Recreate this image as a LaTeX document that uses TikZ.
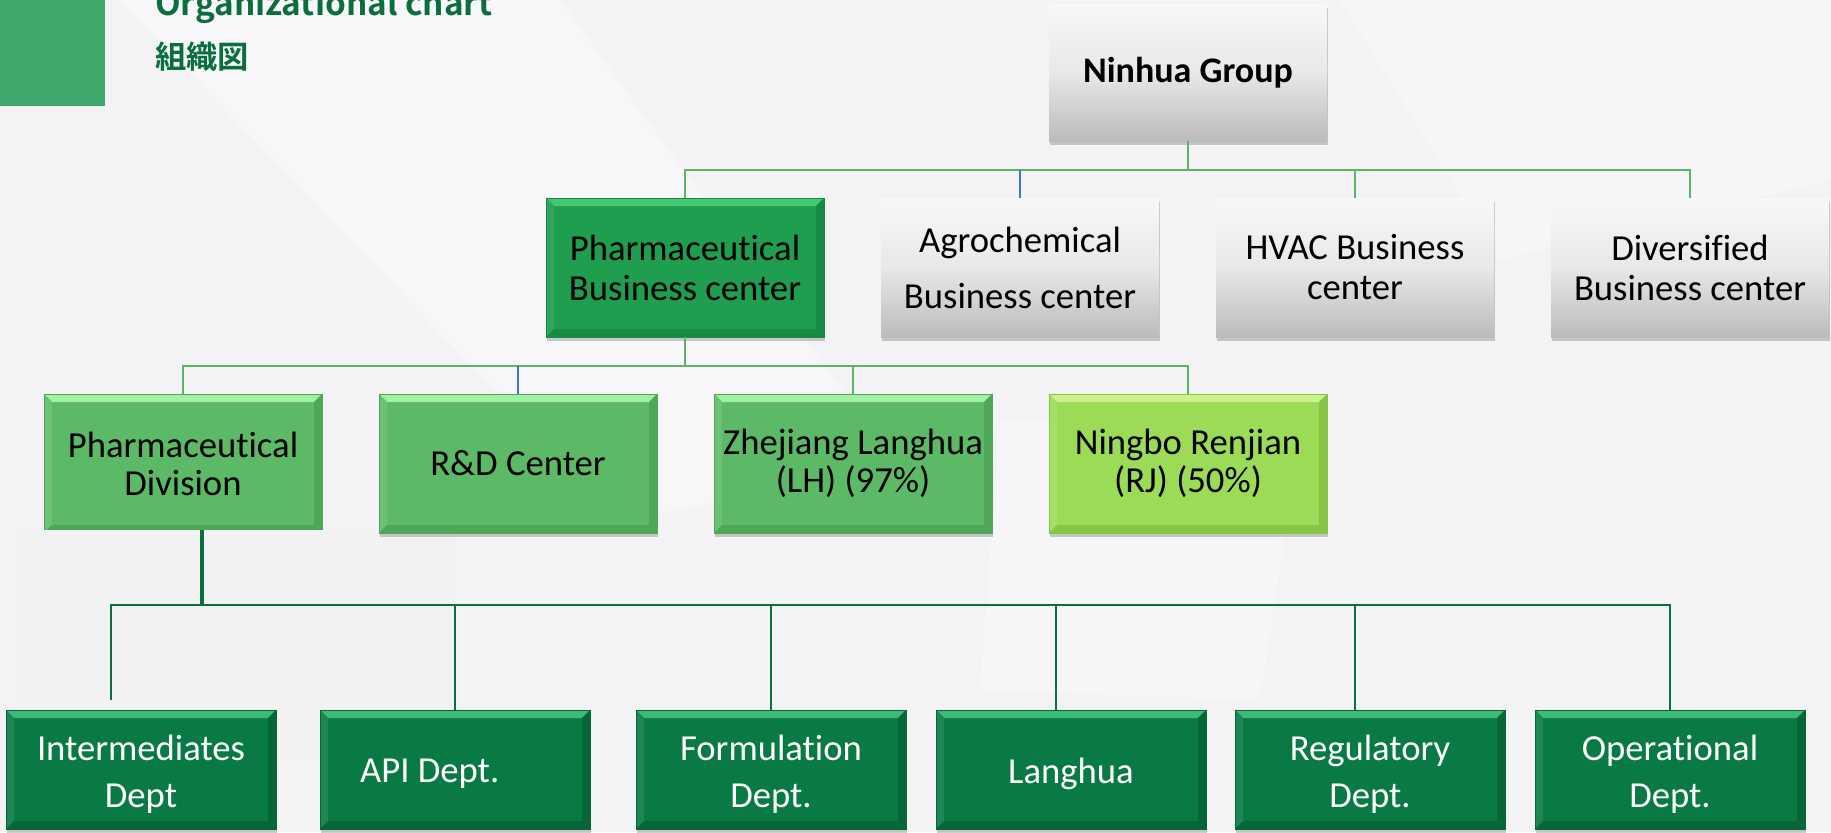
\documentclass[tikz,border=0pt]{standalone}
\usepackage{fontspec}
\setmainfont{Carlito}[Ligatures={NoCommon}]
\newfontfamily\cjk{Noto Sans CJK JP}[BoldFont={Noto Sans CJK JP Bold}]
\usetikzlibrary{shadows}
\definecolor{bg}{HTML}{F3F3F5}
\definecolor{titlegreen}{HTML}{0B6E3C}
\definecolor{sqgreen}{HTML}{41A66B}
\definecolor{pbc}{HTML}{1E9E4E}
\definecolor{pbclight}{HTML}{45C873}
\definecolor{pbcdark}{HTML}{178A43}
\definecolor{mid}{HTML}{5CBA67}
\definecolor{midlight}{HTML}{A2F0A2}
\definecolor{middark}{HTML}{4EA659}
\definecolor{lime}{HTML}{9CDB56}
\definecolor{limelight}{HTML}{CBF28E}
\definecolor{limedark}{HTML}{87C547}
\definecolor{deep}{HTML}{0A7A45}
\definecolor{deeplight}{HTML}{3DBA78}
\definecolor{deepdark}{HTML}{076637}
\definecolor{grtop}{HTML}{F8F8F8}
\definecolor{grmid}{HTML}{E8E8E8}
\definecolor{grbot}{HTML}{BBBBBB}
\definecolor{lineg}{HTML}{5BB565}
\definecolor{lineb}{HTML}{4472C4}
\definecolor{linedeep}{HTML}{0B6E3C}
\definecolor{patch}{HTML}{F2F2F2}
\newcommand\bvl{6pt}
\tikzset{
  bevel/.style n args={4}{path picture={
    \fill[#1] (path picture bounding box.north west) -- (path picture bounding box.north east)
      -- ([shift={(-\bvl,-\bvl)}]path picture bounding box.north east)
      -- ([shift={(\bvl,-\bvl)}]path picture bounding box.north west) -- cycle;
    \fill[#2] (path picture bounding box.north west) -- ([shift={(\bvl,-\bvl)}]path picture bounding box.north west)
      -- ([shift={(\bvl,\bvl)}]path picture bounding box.south west) -- (path picture bounding box.south west) -- cycle;
    \fill[#3] (path picture bounding box.north east) -- ([shift={(-\bvl,-\bvl)}]path picture bounding box.north east)
      -- ([shift={(-\bvl,\bvl)}]path picture bounding box.south east) -- (path picture bounding box.south east) -- cycle;
    \fill[#4] (path picture bounding box.south west) -- ([shift={(\bvl,\bvl)}]path picture bounding box.south west)
      -- ([shift={(-\bvl,\bvl)}]path picture bounding box.south east) -- (path picture bounding box.south east) -- cycle;
  }},
  shad/.style={drop shadow={shadow xshift=1pt, shadow yshift=-3pt, opacity=.28, fill=black!70}},
  box/.style={minimum width=208.5pt, minimum height=104.25pt, inner sep=0pt, align=center,
    font=\fontsize{27.5}{30}\selectfont, shad},
  graybox/.style={box, top color=grtop, bottom color=grbot, middle color=grmid},
  pbcbox/.style={box, fill=pbc, draw=pbcdark, line width=.6pt, bevel={pbclight}{pbc!92!white}{pbcdark}{pbcdark}},
  midbox/.style={box, fill=mid, draw=middark, line width=.6pt, font=\fontsize{27.5}{28.5}\selectfont,
    bevel={midlight}{mid!90!white}{middark}{middark}},
  limebox/.style={midbox, fill=lime, draw=limedark, bevel={limelight}{lime!90!white}{limedark}{limedark}},
  deepbox/.style={box, minimum width=202.5pt, minimum height=89.25pt, fill=deep, draw=deepdark, line width=.6pt,
    bevel={deeplight}{deep!92!white}{deepdark}{deepdark}},
  deeptext/.style={inner sep=0pt, align=center, text=white, font=\fontsize{27.5}{35}\selectfont},
  lg/.style={draw=lineg, line width=1.5pt},
  lg2/.style={draw=lineg, line width=1.1pt},
  lb/.style={draw=lineb, line width=1.1pt},
  dl/.style={draw=linedeep, line width=1.3pt},
  thickl/.style={draw=linedeep, line width=3pt},
}
\begin{document}
\begin{tikzpicture}[x=0.75pt,y=-0.75pt]
\useasboundingbox (0,0) rectangle (1831,832);
\fill[bg] (0,0) rectangle (1831,832);
% faint background facets
\fill[white, opacity=.4] (120,0) -- (560,0) -- (900,470) -- (620,520) -- cycle;
\fill[white, opacity=.3] (1340,0) -- (1831,0) -- (1831,180) -- (1500,260) -- cycle;
\fill[white, opacity=.3] (1000,420) -- (1300,430) -- (1260,700) -- (980,690) -- cycle;

% title block
\fill[sqgreen] (0,0) rectangle (105,106);
\node[anchor=base west, inner sep=0pt, text=titlegreen, font=\cjk\bfseries\fontsize{25}{25}\selectfont] (title) at (155,15) {Organizational chart};
\node[anchor=base west, inner sep=0pt, text=titlegreen, font=\cjk\bfseries\fontsize{23.5}{23.5}\selectfont] (jp) at (155,68) {組織図};

% level 0
\node[graybox, minimum height=102.75pt, font=\bfseries\fontsize{27}{30}\selectfont] (ng) at (1188,72.5) {Ninhua Group};

% level 1
\node[pbcbox] (pbc) at (685,267.5) {Pharmaceutical\\Business center};
\node[graybox, font=\fontsize{27.5}{42}\selectfont] (agro) at (1020,267.5) {Agrochemical\\Business center};
\node[graybox] (hvac) at (1355,267.5) {HVAC Business\\center};
\node[graybox] (div) at (1690,267.5) {Diversified\\Business center};

% level 2 (division box, then the light patch that hides its lower edge)
\node[midbox] (pd) at (183,463.5) {Pharmaceutical\\Division};
\fill[patch] (20,530) rectangle (456,760);
\node[midbox] (rd) at (518,463.5) {R\&D Center};
\node[midbox] (lh) at (853,463.5) {Zhejiang Langhua\\(LH) (97\%)};
\node[limebox] (rj) at (1188,463.5) {Ningbo Renjian\\(RJ) (50\%)};

% level 3
\node[deepbox] (imd) at (141,769.5) {};
\node[deepbox] (api) at (455,769.5) {};
\node[deepbox] (frm) at (771,769.5) {};
\node[deepbox] (lang) at (1071,769.5) {};
\node[deepbox] (reg) at (1370,769.5) {};
\node[deepbox] (ope) at (1670,769.5) {};
\node[deeptext] (imdt) at ([yshift=-3.5pt]imd.center) {Intermediates\\Dept};
\node[deeptext] (apit) at ([xshift=-19pt,yshift=-3.5pt]api.center) {API Dept.};
\node[deeptext] (frmt) at ([yshift=-3.5pt]frm.center) {Formulation\\Dept.};
\node[deeptext] (langt) at ([yshift=-3.5pt]lang.center) {Langhua};
\node[deeptext] (regt) at ([yshift=-3.5pt]reg.center) {Regulatory\\Dept.};
\node[deeptext] (opet) at ([yshift=-3.5pt]ope.center) {Operational\\Dept.};

% connectors level 0 -> 1
\coordinate (j0) at (1188,170);
\draw[lg] (ng.south) -- (j0);
\draw[lg] (pbc.north) |- (j0) -| (div.north);
\draw[lg] (j0 -| hvac.north) -- (hvac.north);
\draw[lb] (j0 -| agro.north) -- (agro.north);

% connectors level 1 -> 2
\coordinate (j1) at (685,366);
\draw[lg2] (pbc.south) -- (j1);
\draw[lg2] (pd.north) |- (j1) -| (rj.north);
\draw[lg2] (j1 -| lh.north) -- (lh.north);
\draw[lb] (j1 -| rd.north) -- (rd.north);

% connectors level 2 -> 3
\coordinate (j2a) at (202,530);
\coordinate (j2) at (202,605);
\coordinate (ie) at (111,700);
\coordinate (langin) at ([xshift=-11.25pt]lang.north);
\coordinate (regin) at ([xshift=-11.25pt]reg.north);
\draw[thickl] (j2a) -- ([yshift=-1pt]j2);
\draw[dl] (ie) |- (j2) -| (ope.north);
\draw[dl] (j2 -| api.north) -- (api.north);
\draw[dl] (j2 -| frm.north) -- (frm.north);
\draw[dl] (j2 -| langin) -- (langin);
\draw[dl] (j2 -| regin) -- (regin);
\end{tikzpicture}
\end{document}
